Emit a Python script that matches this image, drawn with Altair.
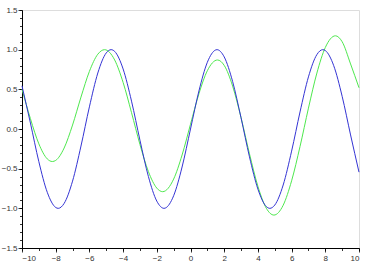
import altair as alt
import pandas as pd

# Blue curve
blue_x = [-10, -9.5, -9, -8.5, -8, -7.85, -7.5, -7, -6.5, -6, -5.5, -5, -4.71, -4.5, -4,
          -3.5, -3, -2.5, -2, -1.57, -1.5, -1, -0.5, 0, 0.5, 1, 1.5, 1.57, 2, 2.5, 3,
          3.5, 4, 4.5, 4.71, 5, 5.5, 6, 6.5, 7, 7.5, 7.85, 8, 8.5, 9, 9.5, 10]
blue_y = [0.544, 0.075, -0.412, -0.798, -0.989, -1.0, -0.938, -0.657, -0.215, 0.279, 0.706,
          0.959, 1.0, 0.978, 0.757, 0.351, -0.141, -0.598, -0.909, -1.0, -0.997, -0.841,
          -0.479, 0.0, 0.479, 0.841, 0.997, 1.0, 0.909, 0.598, 0.141, -0.351, -0.757,
          -0.978, -1.0, -0.959, -0.706, -0.279, 0.215, 0.657, 0.938, 1.0, 0.989, 0.798,
          0.412, -0.075, -0.544]

# Green curve
green_x = [-10, -9.5, -9, -8.5, -8.2, -8, -7.5, -7, -6.5, -6, -5.5, -5.1, -4.5, -4, -3.5,
           -3, -2.5, -2, -1.65, -1, -0.5, 0, 0.5, 1, 1.6, 2, 2.5, 3, 3.5, 4, 4.5, 4.95,
           5.5, 6, 6.5, 7, 7.5, 8, 8.6, 9, 9.5, 10]
green_y = [0.50, 0.13, -0.187, -0.377, -0.41, -0.396, -0.24, 0.05, 0.402, 0.726, 0.943, 1.0,
           0.87, 0.587, 0.206, -0.195, -0.536, -0.745, -0.79, -0.631, -0.328, 0.06, 0.444,
           0.735, 0.87, 0.802, 0.541, 0.143, -0.313, -0.722, -0.999, -1.085, -0.961,
           -0.653, -0.221, 0.263, 0.705, 1.027, 1.175, 1.10, 0.82, 0.52]

x_major = [-10, -8, -6, -4, -2, 0, 2, 4, 6, 8, 10]
x_minor = list(range(-10, 11))
y_major = [-1.5, -1.0, -0.5, 0.0, 0.5, 1.0, 1.5]
y_minor = [round(-1.5 + 0.1 * i, 1) for i in range(31)]

blue = pd.DataFrame({"x": blue_x, "y": blue_y})
green = pd.DataFrame({"x": green_x, "y": green_y})

xs = alt.Scale(domain=[-10, 10], nice=False, zero=False)
ys = alt.Scale(domain=[-1.5, 1.5], nice=False, zero=False)

FONT = "Liberation Sans"

def axes_x(minor):
    if minor:
        return alt.Axis(orient="bottom", values=x_minor, labels=False, tickSize=2.5, domain=False,
                        grid=False, title=None, tickColor="#000", tickWidth=0.8)
    return alt.Axis(orient="bottom", values=x_major, format="d", tickSize=4, domainColor="#000",
                    tickColor="#000", labelFont=FONT, labelFontSize=8, labelColor="#333",
                    labelPadding=2, grid=False, title=None, tickWidth=0.8, domainWidth=1)

def axes_y(minor):
    if minor:
        return alt.Axis(orient="left", values=y_minor, labels=False, tickSize=2.5, domain=False,
                        grid=False, title=None, tickColor="#000", tickWidth=0.8)
    return alt.Axis(orient="left", values=y_major, format=".1f", tickSize=4, domainColor="#000",
                    tickColor="#000", labelFont=FONT, labelFontSize=8, labelColor="#333",
                    labelPadding=1, grid=False, title=None, tickWidth=0.8, domainWidth=1)

minor_layer = alt.Chart(blue).mark_line(opacity=0).encode(
    x=alt.X("x:Q", scale=xs, axis=axes_x(True)),
    y=alt.Y("y:Q", scale=ys, axis=axes_y(True)),
)

green_layer = alt.Chart(green).mark_line(color="#4ee84e", strokeWidth=1, interpolate="monotone").encode(
    x=alt.X("x:Q", scale=xs, axis=axes_x(False)),
    y=alt.Y("y:Q", scale=ys, axis=axes_y(False)),
)

blue_layer = alt.Chart(blue).mark_line(color="#3434d4", strokeWidth=1, interpolate="monotone").encode(
    x=alt.X("x:Q", scale=xs, axis=None),
    y=alt.Y("y:Q", scale=ys, axis=None),
)

chart = alt.layer(minor_layer, green_layer, blue_layer).resolve_axis(x="independent", y="independent").properties(
    width=337,
    height=238,
    autosize=alt.AutoSizeParams(type="none"),
    padding={"left": 22, "top": 10, "right": 7, "bottom": 21},
).configure_view(stroke="#666", strokeWidth=1).configure(background="white")

chart.save("out.html", embed_options={"renderer": "svg", "actions": False})
